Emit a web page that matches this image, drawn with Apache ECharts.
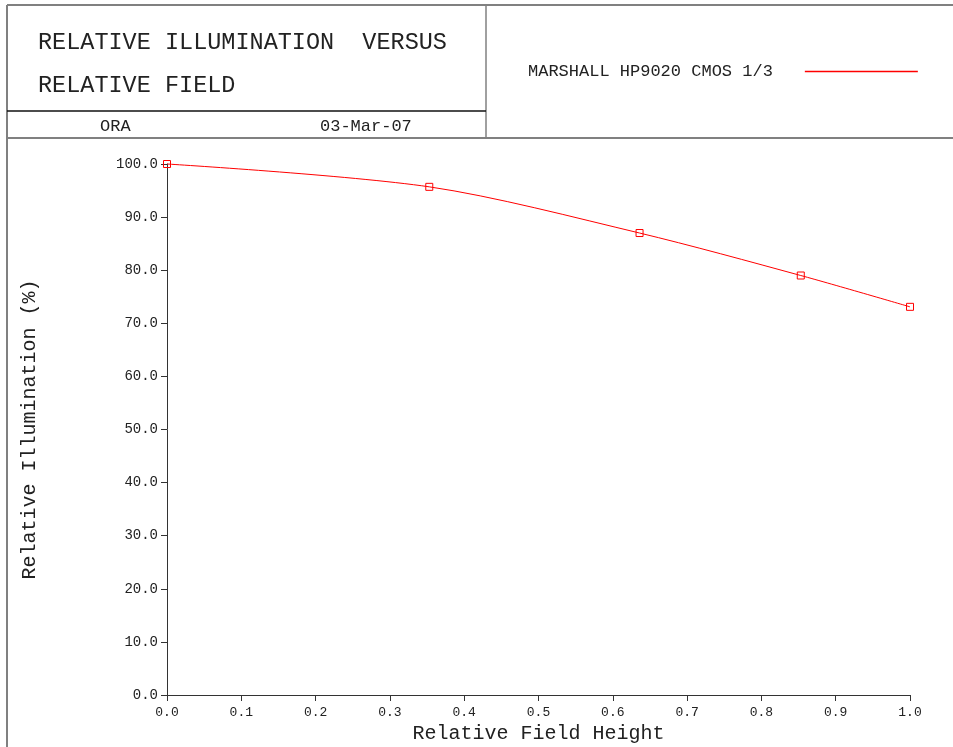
<!DOCTYPE html>
<html>
<head>
<meta charset="utf-8">
<script src="https://cdn.jsdelivr.net/npm/echarts@6/dist/echarts.min.js"></script>
<style>
html,body{margin:0;padding:0;background:#fff;}
#chart{width:953px;height:747px;}
</style>
</head>
<body>
<div id="chart"></div>
<script>
const seriesName = 'MARSHALL HP9020 CMOS 1/3';
const fieldHeight = [0.0, 0.353, 0.636, 0.853, 1.0];
const illumination = [100.0, 95.7, 87.0, 79.0, 73.1];
const titleLines = ['RELATIVE ILLUMINATION  VERSUS', 'RELATIVE FIELD'];
const footerLeft = 'ORA';
const footerDate = '03-Mar-07';
const xAxisTitle = 'Relative Field Height';
const yAxisTitle = 'Relative Illumination (%)';

const FONT = '"Liberation Mono", "Courier New", monospace';
const TXT = '#222';
const GRAY = '#808080';

const chart = echarts.init(document.getElementById('chart'));
chart.setOption({
  animation: false,
  backgroundColor: '#fff',
  color: ['#ff0000'],
  grid: { left: 167, right: 43, top: 164, bottom: 52, containLabel: false, outerBoundsMode: 'none' },
  legend: {
    data: [{ name: seriesName, icon: 'rect' }],
    left: 523, top: 58,
    align: 'right',
    itemWidth: 113, itemHeight: 1.5,
    itemStyle: { color: '#ff0000', borderColor: '#ff0000', borderWidth: 0 },
    textStyle: { fontFamily: FONT, fontSize: 17, color: TXT, padding: [0, 27, 0, 0] },
    selectedMode: false
  },
  xAxis: {
    type: 'value', min: 0, max: 1, interval: 0.1,
    name: xAxisTitle, nameLocation: 'middle', nameGap: 28,
    nameTextStyle: { fontFamily: FONT, fontSize: 20, color: TXT },
    axisLine: { lineStyle: { color: '#333', width: 1 } },
    axisTick: { show: true, length: 6, lineStyle: { color: '#333' } },
    axisLabel: { fontFamily: FONT, fontSize: 13, color: TXT, margin: 11,
      formatter: v => v.toFixed(1) },
    splitLine: { show: false }
  },
  yAxis: {
    type: 'value', min: 0, max: 100, interval: 10,
    name: yAxisTitle, nameLocation: 'middle', nameGap: 127,
    nameTextStyle: { fontFamily: FONT, fontSize: 20, color: TXT },
    axisLine: { show: true, lineStyle: { color: '#333', width: 1 } },
    axisTick: { show: true, length: 6, lineStyle: { color: '#333' } },
    axisLabel: { fontFamily: FONT, fontSize: 14, color: TXT, margin: 9,
      formatter: v => v.toFixed(1) },
    splitLine: { show: false }
  },
  series: [{
    name: seriesName,
    type: 'line',
    data: fieldHeight.map((x, i) => [x, illumination[i]]),
    smooth: 0.3,
    symbol: 'rect', symbolSize: 7,
    lineStyle: { color: '#ff0000', width: 1 },
    itemStyle: { color: 'rgba(0,0,0,0)', borderColor: '#ff0000', borderWidth: 1 },
    clip: false
  }],
  graphic: [
    { type: 'line', shape: { x1: 7, y1: 5, x2: 953, y2: 5 }, style: { stroke: GRAY, lineWidth: 2 } },
    { type: 'line', shape: { x1: 7, y1: 5, x2: 7, y2: 747 }, style: { stroke: GRAY, lineWidth: 2 } },
    { type: 'line', shape: { x1: 486, y1: 5, x2: 486, y2: 138 }, style: { stroke: GRAY, lineWidth: 1.5 } },
    { type: 'line', shape: { x1: 7, y1: 111, x2: 486, y2: 111 }, style: { stroke: '#111', lineWidth: 1.5 } },
    { type: 'line', shape: { x1: 7, y1: 138, x2: 953, y2: 138 }, style: { stroke: GRAY, lineWidth: 2 } },
    { type: 'text', left: 38, top: 31, style: { text: titleLines[0], font: '23.5px ' + FONT, fill: TXT } },
    { type: 'text', left: 38, top: 74, style: { text: titleLines[1], font: '23.5px ' + FONT, fill: TXT } },
    { type: 'text', left: 100, top: 118, style: { text: footerLeft, font: '17px ' + FONT, fill: TXT } },
    { type: 'text', left: 320, top: 118, style: { text: footerDate, font: '17px ' + FONT, fill: TXT } }
  ]
});
</script>
</body>
</html>
